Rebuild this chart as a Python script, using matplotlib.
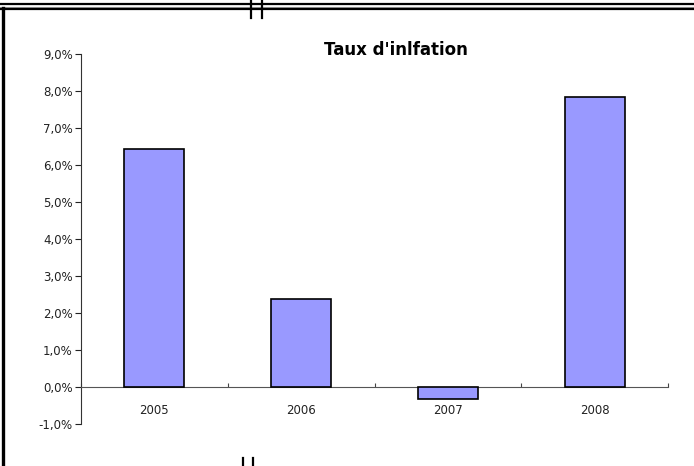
import numpy as np
import matplotlib.pyplot as plt
from matplotlib.lines import Line2D
from matplotlib.ticker import FuncFormatter, FixedLocator

plt.rcParams['font.family'] = ['DejaVu Sans']

years = ['2005', '2006', '2007', '2008']
inflation = [6.43, 2.38, -0.32, 7.84]   # %

W, H = 694, 466
fig = plt.figure(figsize=(W / 100, H / 100), dpi=100)

# axes placed in pixels
x0, x1 = 81, 668
y_top, y_bot = 54, 424
ax = fig.add_axes([x0 / W, (H - y_bot) / H, (x1 - x0) / W, (y_bot - y_top) / H])

pos = np.arange(len(years))
ax.bar(pos, inflation, width=0.41, color='#9999FF', edgecolor='black', linewidth=1.2, zorder=3)

ax.set_xlim(-0.5, len(years) - 0.5)
ax.set_ylim(-1, 9)
ax.set_yticks(np.arange(-1, 10, 1))
ax.yaxis.set_major_formatter(FuncFormatter(lambda v, p: ('%.1f%%' % v).replace('.', ',')))
ax.tick_params(axis='y', length=4, width=0.8, pad=2, labelsize=8.5, colors='#222222')

# category boundaries get tick marks, centres get labels
ax.xaxis.set_major_locator(FixedLocator(np.arange(-0.5, len(years), 1.0)))
ax.xaxis.set_major_formatter(FuncFormatter(lambda v, p: ''))
ax.xaxis.set_minor_locator(FixedLocator(pos))
ax.set_xticklabels(years, minor=True)
ax.tick_params(axis='x', which='major', direction='in', length=3, width=0.8, colors='#444444')
ax.tick_params(axis='x', which='minor', length=0, pad=12, labelsize=8.5, labelcolor='#222222')

for s in ['top', 'right']:
    ax.spines[s].set_visible(False)
ax.spines['bottom'].set_position(('data', 0))
ax.spines['bottom'].set_color('#555555')
ax.spines['left'].set_color('#333333')
ax.spines['bottom'].set_linewidth(0.8)
ax.spines['left'].set_linewidth(0.8)

fig.text(396 / W, 1 - 50 / H, "Taux d'inlfation", ha='center', va='center',
         fontsize=12, fontweight='bold')

# page frame lines around the chart
def px_line(xs, ys, lw, color='black'):
    fig.add_artist(Line2D([x / W for x in xs], [1 - y / H for y in ys],
                          lw=lw, color=color, transform=fig.transFigure))

px_line([0, W], [3.5, 3.5], 1.6)
px_line([0, W], [7, 7], 0.8, '#999999')
px_line([0, W], [8.5, 8.5], 1.6)
px_line([2.5, 2.5], [8, H], 2.4)
px_line([251, 251], [0, 18], 1.6)
px_line([262, 262], [0, 18], 1.6)
px_line([243, 243], [458, H], 1.6)
px_line([253, 253], [458, H], 1.6)

fig.savefig('out.png', dpi=100)
